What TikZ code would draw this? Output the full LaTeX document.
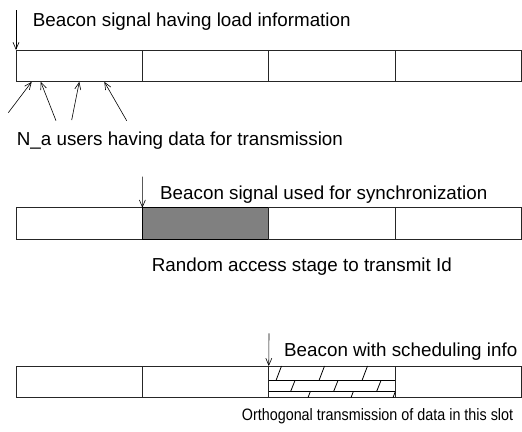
\documentclass[tikz,border=0pt]{standalone}
\usepackage{fontspec}
\setmainfont{Liberation Sans}
\usetikzlibrary{arrows.meta}
\begin{document}
\begin{tikzpicture}[x=1pt,y=-1pt,
  cell/.style={draw=black!85, line width=0.8pt, rectangle, minimum width=126.375pt, minimum height=31.6pt, inner sep=0pt, outer sep=0pt, anchor=north west},
  grayc/.style={cell, fill=black!50, draw=black},
  lbl/.style={inner sep=0pt, anchor=base west, font=\fontsize{18.8}{22}\selectfont},
  smalllbl/.style={lbl, font=\fontsize{16.5}{19}\selectfont},
  arr/.style={line width=0.6pt, -{Straight Barb[length=7pt,width=6pt]}},
  hatch/.style={line width=0.8pt}]
\useasboundingbox (0,0) rectangle (522,431);
% Row 1
\node[cell] (a1) at (16,50) {};
\node[cell] (a2) at (a1.north east) {};
\node[cell] (a3) at (a2.north east) {};
\node[cell] (a4) at (a3.north east) {};
\coordinate (b1) at (16,10);
\draw[arr] (b1) -- (a1.north west);
\node[lbl] (t1) at (32.7,26) {Beacon signal having load information};
\coordinate (u1) at (8.3,112.7);
\coordinate (u2) at (56,120.7);
\coordinate (u3) at (71.7,120);
\coordinate (u4) at (126.7,120.7);
\draw[arr] (u1) -- (31.7,81.8);
\draw[arr] (u2) -- (40.7,81.8);
\draw[arr] (u3) -- (79.3,81.8);
\draw[arr] (u4) -- (104.3,81.8);
\node[lbl] (t2) at (16.7,145.3) {N\_a users having data for transmission};
% Row 2
\node[cell] (c1) at (16,207.7) {};
\node[grayc] (c2) at (c1.north east) {};
\node[cell] (c3) at (c2.north east) {};
\node[cell] (c4) at (c3.north east) {};
\coordinate (b2) at (142.4,176.7);
\draw[arr] (b2) -- (c2.north west);
\node[lbl] (t3) at (160,199) {Beacon signal used for synchronization};
\node[lbl] (t4) at (151.7,271.3) {Random access stage to transmit Id};
% Row 3
\node[cell] (d1) at (16,366) {};
\node[cell] (d2) at (d1.north east) {};
\node[cell] (d3) at (d2.north east) {};
\node[cell] (d4) at (d3.north east) {};
\draw[hatch] (d3.west |- 0,380.5) -- (d3.east |- 0,380.5);
\draw[hatch] (d3.west |- 0,391.8) -- (d3.east |- 0,391.8);
\foreach \x in {276,319,362}{\draw[hatch] (\x,380.5) -- (\x+5.5,366);}
\foreach \x in {290.5,333.5,376.5}{\draw[hatch] (\x,391.8) -- (\x+4.5,380.5);}
\foreach \x in {308,351,393}{\draw[hatch] (\x,397.6) -- (\x+2.2,391.8);}
\coordinate (b3) at (269,333.3);
\draw[arr] (b3) -- (d3.north west);
\node[lbl] (t5) at (284,356.7) {Beacon with scheduling info};
\node[smalllbl] (t6) at (241.7,420) {\scalebox{0.87}[1]{Orthogonal transmission of data in this slot}};
\end{tikzpicture}
\end{document}
